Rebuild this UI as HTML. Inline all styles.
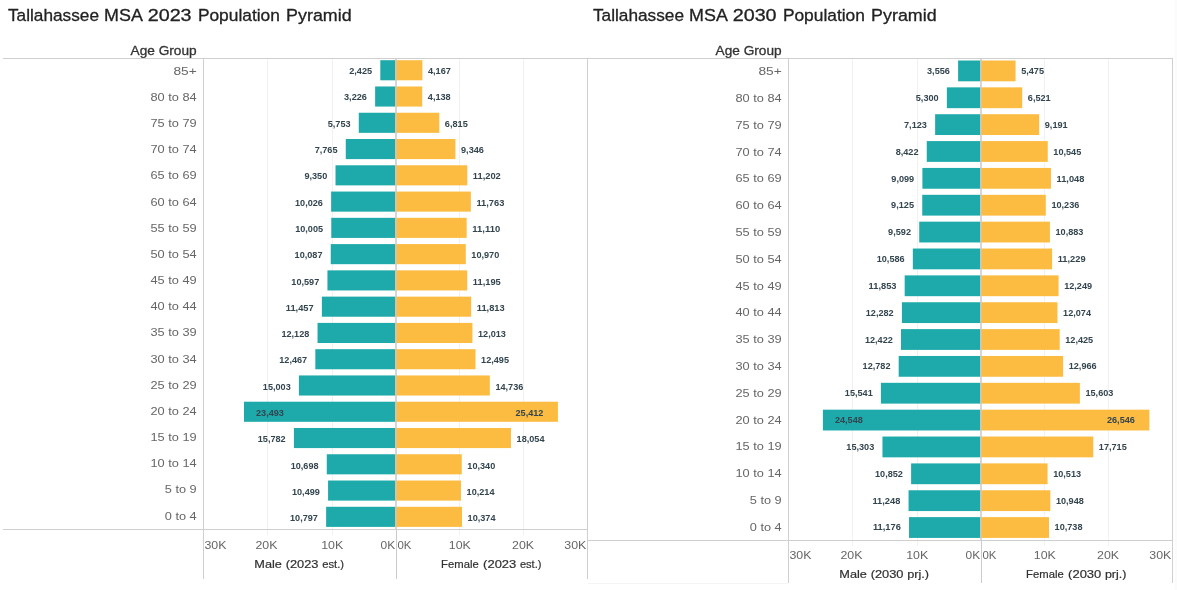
<!DOCTYPE html>
<html lang="en">
<head>
<meta charset="utf-8">
<title>Tallahassee MSA Population Pyramids</title>
<style>
html,body{margin:0;padding:0;background:#fff;}
body{width:1177px;height:590px;overflow:hidden;font-family:"Liberation Sans",sans-serif;}
svg{display:block;font-family:"Liberation Sans",sans-serif;}
.c{shape-rendering:crispEdges;}
.ttl{font-size:17.2px;fill:#222;stroke:#222;stroke-width:0.3px;}
.hdr{font-size:13px;fill:#333;stroke:#333;stroke-width:0.3px;}
.row{font-size:11.3px;fill:#666;}
.dl{font-size:8.6px;font-weight:bold;fill:#33454f;}
.tk{font-size:11px;fill:#666;}
.at{font-size:10.4px;fill:#303030;stroke:#303030;stroke-width:0.18px;}
</style>
</head>
<body>
<svg width="1177" height="590" viewBox="0 0 1177 590">
<rect x="0" y="0" width="1177" height="590" fill="#ffffff"/>
<text class="ttl" y="20.9"><tspan x="8.0" textLength="91.0" lengthAdjust="spacingAndGlyphs">Tallahassee</tspan> <tspan x="104.1" textLength="37.8" lengthAdjust="spacingAndGlyphs">MSA</tspan> <tspan x="147.7" textLength="43.9" lengthAdjust="spacingAndGlyphs">2023</tspan> <tspan x="197.9" textLength="82.0" lengthAdjust="spacingAndGlyphs">Population</tspan> <tspan x="286.1" textLength="65.5" lengthAdjust="spacingAndGlyphs">Pyramid</tspan></text>
<text class="hdr" x="196.6" y="54.8" text-anchor="end" textLength="66" lengthAdjust="spacingAndGlyphs">Age Group</text>
<rect class="c" x="267.0" y="59" width="1" height="476" fill="#f1f1f1"/>
<rect class="c" x="332.0" y="59" width="1" height="476" fill="#f1f1f1"/>
<rect class="c" x="459.0" y="59" width="1" height="476" fill="#f1f1f1"/>
<rect class="c" x="523.0" y="59" width="1" height="476" fill="#f1f1f1"/>
<rect x="380.31" y="60.20" width="14.69" height="20.1" fill="#1eaaaa"/>
<rect x="395.00" y="60.20" width="27.39" height="20.1" fill="#fcbc42"/>
<rect x="375.13" y="86.47" width="19.87" height="20.1" fill="#1eaaaa"/>
<rect x="395.00" y="86.47" width="27.20" height="20.1" fill="#fcbc42"/>
<rect x="358.78" y="112.74" width="36.22" height="20.1" fill="#1eaaaa"/>
<rect x="395.00" y="112.74" width="44.28" height="20.1" fill="#fcbc42"/>
<rect x="345.76" y="139.01" width="49.24" height="20.1" fill="#1eaaaa"/>
<rect x="395.00" y="139.01" width="60.43" height="20.1" fill="#fcbc42"/>
<rect x="335.51" y="165.28" width="59.49" height="20.1" fill="#1eaaaa"/>
<rect x="395.00" y="165.28" width="72.27" height="20.1" fill="#fcbc42"/>
<rect x="331.13" y="191.55" width="63.87" height="20.1" fill="#1eaaaa"/>
<rect x="395.00" y="191.55" width="75.85" height="20.1" fill="#fcbc42"/>
<rect x="331.27" y="217.82" width="63.73" height="20.1" fill="#1eaaaa"/>
<rect x="395.00" y="217.82" width="71.68" height="20.1" fill="#fcbc42"/>
<rect x="330.74" y="244.09" width="64.26" height="20.1" fill="#1eaaaa"/>
<rect x="395.00" y="244.09" width="70.79" height="20.1" fill="#fcbc42"/>
<rect x="327.44" y="270.36" width="67.56" height="20.1" fill="#1eaaaa"/>
<rect x="395.00" y="270.36" width="72.22" height="20.1" fill="#fcbc42"/>
<rect x="321.87" y="296.63" width="73.13" height="20.1" fill="#1eaaaa"/>
<rect x="395.00" y="296.63" width="76.17" height="20.1" fill="#fcbc42"/>
<rect x="317.53" y="322.90" width="77.47" height="20.1" fill="#1eaaaa"/>
<rect x="395.00" y="322.90" width="77.44" height="20.1" fill="#fcbc42"/>
<rect x="315.34" y="349.17" width="79.66" height="20.1" fill="#1eaaaa"/>
<rect x="395.00" y="349.17" width="80.52" height="20.1" fill="#fcbc42"/>
<rect x="298.93" y="375.44" width="96.07" height="20.1" fill="#1eaaaa"/>
<rect x="395.00" y="375.44" width="94.82" height="20.1" fill="#fcbc42"/>
<rect x="244.00" y="401.71" width="151.00" height="20.1" fill="#1eaaaa"/>
<rect x="395.00" y="401.71" width="162.93" height="20.1" fill="#fcbc42"/>
<rect x="293.89" y="427.98" width="101.11" height="20.1" fill="#1eaaaa"/>
<rect x="395.00" y="427.98" width="115.98" height="20.1" fill="#fcbc42"/>
<rect x="326.78" y="454.25" width="68.22" height="20.1" fill="#1eaaaa"/>
<rect x="395.00" y="454.25" width="66.77" height="20.1" fill="#fcbc42"/>
<rect x="328.07" y="480.52" width="66.93" height="20.1" fill="#1eaaaa"/>
<rect x="395.00" y="480.52" width="65.97" height="20.1" fill="#fcbc42"/>
<rect x="326.14" y="506.79" width="68.86" height="20.1" fill="#1eaaaa"/>
<rect x="395.00" y="506.79" width="66.99" height="20.1" fill="#fcbc42"/>
<rect class="c" x="3" y="58" width="584.5" height="1" fill="#cfcfcf"/>
<rect class="c" x="3" y="529" width="584.5" height="1" fill="#cfcfcf"/>
<rect class="c" x="203" y="58" width="1" height="521" fill="#cfcfcf"/>
<rect class="c" x="587" y="58" width="1" height="521" fill="#cfcfcf"/>
<rect class="c" x="395" y="59" width="2" height="470" fill="#c6c6c6" fill-opacity="0.72"/>
<rect class="c" x="396" y="529" width="1" height="50" fill="#cbcbcb"/>
<text class="row" x="196.7" y="74.65" text-anchor="end" textLength="23.3" lengthAdjust="spacingAndGlyphs">85+</text>
<text class="dl" x="372.11" y="73.95" text-anchor="end" textLength="22.9" lengthAdjust="spacingAndGlyphs">2,425</text>
<text class="dl" x="427.99" y="73.95" textLength="22.9" lengthAdjust="spacingAndGlyphs">4,167</text>
<text class="row" x="196.7" y="100.82" text-anchor="end" textLength="46.2" lengthAdjust="spacingAndGlyphs">80 to 84</text>
<text class="dl" x="366.93" y="100.27" text-anchor="end" textLength="22.9" lengthAdjust="spacingAndGlyphs">3,226</text>
<text class="dl" x="427.80" y="100.27" textLength="22.9" lengthAdjust="spacingAndGlyphs">4,138</text>
<text class="row" x="196.7" y="126.99" text-anchor="end" textLength="46.2" lengthAdjust="spacingAndGlyphs">75 to 79</text>
<text class="dl" x="350.58" y="126.59" text-anchor="end" textLength="22.9" lengthAdjust="spacingAndGlyphs">5,753</text>
<text class="dl" x="444.88" y="126.59" textLength="22.9" lengthAdjust="spacingAndGlyphs">6,815</text>
<text class="row" x="196.7" y="153.16" text-anchor="end" textLength="46.2" lengthAdjust="spacingAndGlyphs">70 to 74</text>
<text class="dl" x="337.56" y="152.91" text-anchor="end" textLength="22.9" lengthAdjust="spacingAndGlyphs">7,765</text>
<text class="dl" x="461.03" y="152.91" textLength="22.9" lengthAdjust="spacingAndGlyphs">9,346</text>
<text class="row" x="196.7" y="179.33" text-anchor="end" textLength="46.2" lengthAdjust="spacingAndGlyphs">65 to 69</text>
<text class="dl" x="327.31" y="179.23" text-anchor="end" textLength="22.9" lengthAdjust="spacingAndGlyphs">9,350</text>
<text class="dl" x="472.87" y="179.23" textLength="27.9" lengthAdjust="spacingAndGlyphs">11,202</text>
<text class="row" x="196.7" y="205.50" text-anchor="end" textLength="46.2" lengthAdjust="spacingAndGlyphs">60 to 64</text>
<text class="dl" x="322.93" y="205.55" text-anchor="end" textLength="27.9" lengthAdjust="spacingAndGlyphs">10,026</text>
<text class="dl" x="476.45" y="205.55" textLength="27.9" lengthAdjust="spacingAndGlyphs">11,763</text>
<text class="row" x="196.7" y="231.67" text-anchor="end" textLength="46.2" lengthAdjust="spacingAndGlyphs">55 to 59</text>
<text class="dl" x="323.07" y="231.87" text-anchor="end" textLength="27.9" lengthAdjust="spacingAndGlyphs">10,005</text>
<text class="dl" x="472.28" y="231.87" textLength="27.9" lengthAdjust="spacingAndGlyphs">11,110</text>
<text class="row" x="196.7" y="257.84" text-anchor="end" textLength="46.2" lengthAdjust="spacingAndGlyphs">50 to 54</text>
<text class="dl" x="322.54" y="258.19" text-anchor="end" textLength="27.9" lengthAdjust="spacingAndGlyphs">10,087</text>
<text class="dl" x="471.39" y="258.19" textLength="27.9" lengthAdjust="spacingAndGlyphs">10,970</text>
<text class="row" x="196.7" y="284.01" text-anchor="end" textLength="46.2" lengthAdjust="spacingAndGlyphs">45 to 49</text>
<text class="dl" x="319.24" y="284.51" text-anchor="end" textLength="27.9" lengthAdjust="spacingAndGlyphs">10,597</text>
<text class="dl" x="472.82" y="284.51" textLength="27.9" lengthAdjust="spacingAndGlyphs">11,195</text>
<text class="row" x="196.7" y="310.18" text-anchor="end" textLength="46.2" lengthAdjust="spacingAndGlyphs">40 to 44</text>
<text class="dl" x="313.67" y="310.83" text-anchor="end" textLength="27.9" lengthAdjust="spacingAndGlyphs">11,457</text>
<text class="dl" x="476.77" y="310.83" textLength="27.9" lengthAdjust="spacingAndGlyphs">11,813</text>
<text class="row" x="196.7" y="336.35" text-anchor="end" textLength="46.2" lengthAdjust="spacingAndGlyphs">35 to 39</text>
<text class="dl" x="309.33" y="337.15" text-anchor="end" textLength="27.9" lengthAdjust="spacingAndGlyphs">12,128</text>
<text class="dl" x="478.04" y="337.15" textLength="27.9" lengthAdjust="spacingAndGlyphs">12,013</text>
<text class="row" x="196.7" y="362.52" text-anchor="end" textLength="46.2" lengthAdjust="spacingAndGlyphs">30 to 34</text>
<text class="dl" x="307.14" y="363.47" text-anchor="end" textLength="27.9" lengthAdjust="spacingAndGlyphs">12,467</text>
<text class="dl" x="481.12" y="363.47" textLength="27.9" lengthAdjust="spacingAndGlyphs">12,495</text>
<text class="row" x="196.7" y="388.69" text-anchor="end" textLength="46.2" lengthAdjust="spacingAndGlyphs">25 to 29</text>
<text class="dl" x="290.73" y="389.79" text-anchor="end" textLength="27.9" lengthAdjust="spacingAndGlyphs">15,003</text>
<text class="dl" x="495.42" y="389.79" textLength="27.9" lengthAdjust="spacingAndGlyphs">14,736</text>
<text class="row" x="196.7" y="414.86" text-anchor="end" textLength="46.2" lengthAdjust="spacingAndGlyphs">20 to 24</text>
<text class="dl" x="256.00" y="416.11" textLength="27.9" lengthAdjust="spacingAndGlyphs">23,493</text>
<text class="dl" x="543.43" y="416.11" text-anchor="end" textLength="27.9" lengthAdjust="spacingAndGlyphs">25,412</text>
<text class="row" x="196.7" y="441.03" text-anchor="end" textLength="46.2" lengthAdjust="spacingAndGlyphs">15 to 19</text>
<text class="dl" x="285.69" y="442.43" text-anchor="end" textLength="27.9" lengthAdjust="spacingAndGlyphs">15,782</text>
<text class="dl" x="516.58" y="442.43" textLength="27.9" lengthAdjust="spacingAndGlyphs">18,054</text>
<text class="row" x="196.7" y="467.20" text-anchor="end" textLength="46.2" lengthAdjust="spacingAndGlyphs">10 to 14</text>
<text class="dl" x="318.58" y="468.75" text-anchor="end" textLength="27.9" lengthAdjust="spacingAndGlyphs">10,698</text>
<text class="dl" x="467.37" y="468.75" textLength="27.9" lengthAdjust="spacingAndGlyphs">10,340</text>
<text class="row" x="196.7" y="493.37" text-anchor="end" textLength="31.9" lengthAdjust="spacingAndGlyphs">5 to 9</text>
<text class="dl" x="319.87" y="495.07" text-anchor="end" textLength="27.9" lengthAdjust="spacingAndGlyphs">10,499</text>
<text class="dl" x="466.57" y="495.07" textLength="27.9" lengthAdjust="spacingAndGlyphs">10,214</text>
<text class="row" x="196.7" y="519.54" text-anchor="end" textLength="31.9" lengthAdjust="spacingAndGlyphs">0 to 4</text>
<text class="dl" x="317.94" y="521.39" text-anchor="end" textLength="27.9" lengthAdjust="spacingAndGlyphs">10,797</text>
<text class="dl" x="467.59" y="521.39" textLength="27.9" lengthAdjust="spacingAndGlyphs">10,374</text>
<text class="tk" x="204.5" y="548.6" textLength="22.0" lengthAdjust="spacingAndGlyphs">30K</text>
<text class="tk" x="266.5" y="548.6" text-anchor="middle" textLength="22.0" lengthAdjust="spacingAndGlyphs">20K</text>
<text class="tk" x="332.2" y="548.6" text-anchor="middle" textLength="22.0" lengthAdjust="spacingAndGlyphs">10K</text>
<text class="tk" x="395.2" y="548.6" text-anchor="end" textLength="14.6" lengthAdjust="spacingAndGlyphs">0K</text>
<text class="tk" x="397.4" y="548.6" textLength="14.0" lengthAdjust="spacingAndGlyphs">0K</text>
<text class="tk" x="459.8" y="548.6" text-anchor="middle" textLength="22.0" lengthAdjust="spacingAndGlyphs">10K</text>
<text class="tk" x="523.1" y="548.6" text-anchor="middle" textLength="22.0" lengthAdjust="spacingAndGlyphs">20K</text>
<text class="tk" x="586.3" y="548.6" text-anchor="end" textLength="22.0" lengthAdjust="spacingAndGlyphs">30K</text>
<text class="at" y="567.7"><tspan x="254.3" textLength="27.6" lengthAdjust="spacingAndGlyphs">Male</tspan> <tspan x="285.7" textLength="32.8" lengthAdjust="spacingAndGlyphs">(2023</tspan> <tspan x="322.2" textLength="21.9" lengthAdjust="spacingAndGlyphs">est.)</tspan></text>
<text class="at" y="567.7"><tspan x="441.1" textLength="37.6" lengthAdjust="spacingAndGlyphs">Female</tspan> <tspan x="483.1" textLength="33.2" lengthAdjust="spacingAndGlyphs">(2023</tspan> <tspan x="519.9" textLength="21.5" lengthAdjust="spacingAndGlyphs">est.)</tspan></text>
<text class="ttl" y="20.9"><tspan x="593.0" textLength="91.0" lengthAdjust="spacingAndGlyphs">Tallahassee</tspan> <tspan x="689.1" textLength="37.8" lengthAdjust="spacingAndGlyphs">MSA</tspan> <tspan x="732.7" textLength="43.9" lengthAdjust="spacingAndGlyphs">2030</tspan> <tspan x="782.9" textLength="82.0" lengthAdjust="spacingAndGlyphs">Population</tspan> <tspan x="871.1" textLength="65.5" lengthAdjust="spacingAndGlyphs">Pyramid</tspan></text>
<text class="hdr" x="781.6" y="54.8" text-anchor="end" textLength="66" lengthAdjust="spacingAndGlyphs">Age Group</text>
<rect class="c" x="852.0" y="59" width="1" height="487" fill="#f1f1f1"/>
<rect class="c" x="917.0" y="59" width="1" height="487" fill="#f1f1f1"/>
<rect class="c" x="1044.0" y="59" width="1" height="487" fill="#f1f1f1"/>
<rect class="c" x="1108.0" y="59" width="1" height="487" fill="#f1f1f1"/>
<rect x="958.10" y="60.50" width="21.90" height="20.8" fill="#1eaaaa"/>
<rect x="980.00" y="60.50" width="35.57" height="20.8" fill="#fcbc42"/>
<rect x="946.87" y="87.36" width="33.13" height="20.8" fill="#1eaaaa"/>
<rect x="980.00" y="87.36" width="42.21" height="20.8" fill="#fcbc42"/>
<rect x="935.13" y="114.22" width="44.87" height="20.8" fill="#1eaaaa"/>
<rect x="980.00" y="114.22" width="59.16" height="20.8" fill="#fcbc42"/>
<rect x="926.76" y="141.08" width="53.24" height="20.8" fill="#1eaaaa"/>
<rect x="980.00" y="141.08" width="67.76" height="20.8" fill="#fcbc42"/>
<rect x="922.40" y="167.94" width="57.60" height="20.8" fill="#1eaaaa"/>
<rect x="980.00" y="167.94" width="70.95" height="20.8" fill="#fcbc42"/>
<rect x="922.24" y="194.80" width="57.76" height="20.8" fill="#1eaaaa"/>
<rect x="980.00" y="194.80" width="65.80" height="20.8" fill="#fcbc42"/>
<rect x="919.23" y="221.66" width="60.77" height="20.8" fill="#1eaaaa"/>
<rect x="980.00" y="221.66" width="69.91" height="20.8" fill="#fcbc42"/>
<rect x="912.83" y="248.52" width="67.17" height="20.8" fill="#1eaaaa"/>
<rect x="980.00" y="248.52" width="72.10" height="20.8" fill="#fcbc42"/>
<rect x="904.67" y="275.38" width="75.33" height="20.8" fill="#1eaaaa"/>
<rect x="980.00" y="275.38" width="78.58" height="20.8" fill="#fcbc42"/>
<rect x="901.90" y="302.24" width="78.10" height="20.8" fill="#1eaaaa"/>
<rect x="980.00" y="302.24" width="77.47" height="20.8" fill="#fcbc42"/>
<rect x="901.00" y="329.10" width="79.00" height="20.8" fill="#1eaaaa"/>
<rect x="980.00" y="329.10" width="79.70" height="20.8" fill="#fcbc42"/>
<rect x="898.68" y="355.96" width="81.32" height="20.8" fill="#1eaaaa"/>
<rect x="980.00" y="355.96" width="83.13" height="20.8" fill="#fcbc42"/>
<rect x="880.92" y="382.82" width="99.08" height="20.8" fill="#1eaaaa"/>
<rect x="980.00" y="382.82" width="99.88" height="20.8" fill="#fcbc42"/>
<rect x="822.91" y="409.68" width="157.09" height="20.8" fill="#1eaaaa"/>
<rect x="980.00" y="409.68" width="169.37" height="20.8" fill="#fcbc42"/>
<rect x="882.45" y="436.54" width="97.55" height="20.8" fill="#1eaaaa"/>
<rect x="980.00" y="436.54" width="113.29" height="20.8" fill="#fcbc42"/>
<rect x="911.11" y="463.40" width="68.89" height="20.8" fill="#1eaaaa"/>
<rect x="980.00" y="463.40" width="67.56" height="20.8" fill="#fcbc42"/>
<rect x="908.56" y="490.26" width="71.44" height="20.8" fill="#1eaaaa"/>
<rect x="980.00" y="490.26" width="70.32" height="20.8" fill="#fcbc42"/>
<rect x="909.03" y="517.12" width="70.97" height="20.8" fill="#1eaaaa"/>
<rect x="980.00" y="517.12" width="68.99" height="20.8" fill="#fcbc42"/>
<rect class="c" x="588" y="58" width="584.5" height="1" fill="#cfcfcf"/>
<rect class="c" x="588" y="540" width="584.5" height="1" fill="#cfcfcf"/>
<rect class="c" x="788" y="58" width="1" height="525" fill="#cfcfcf"/>
<rect class="c" x="1172" y="58" width="1" height="525" fill="#cfcfcf"/>
<rect class="c" x="980" y="59" width="2" height="481" fill="#c6c6c6" fill-opacity="0.72"/>
<rect class="c" x="981" y="540" width="1" height="43" fill="#cbcbcb"/>
<text class="row" x="781.7" y="75.20" text-anchor="end" textLength="23.3" lengthAdjust="spacingAndGlyphs">85+</text>
<text class="dl" x="949.90" y="74.30" text-anchor="end" textLength="22.9" lengthAdjust="spacingAndGlyphs">3,556</text>
<text class="dl" x="1021.17" y="74.30" textLength="22.9" lengthAdjust="spacingAndGlyphs">5,475</text>
<text class="row" x="781.7" y="102.00" text-anchor="end" textLength="46.2" lengthAdjust="spacingAndGlyphs">80 to 84</text>
<text class="dl" x="938.67" y="101.13" text-anchor="end" textLength="22.9" lengthAdjust="spacingAndGlyphs">5,300</text>
<text class="dl" x="1027.81" y="101.13" textLength="22.9" lengthAdjust="spacingAndGlyphs">6,521</text>
<text class="row" x="781.7" y="128.80" text-anchor="end" textLength="46.2" lengthAdjust="spacingAndGlyphs">75 to 79</text>
<text class="dl" x="926.93" y="127.96" text-anchor="end" textLength="22.9" lengthAdjust="spacingAndGlyphs">7,123</text>
<text class="dl" x="1044.76" y="127.96" textLength="22.9" lengthAdjust="spacingAndGlyphs">9,191</text>
<text class="row" x="781.7" y="155.60" text-anchor="end" textLength="46.2" lengthAdjust="spacingAndGlyphs">70 to 74</text>
<text class="dl" x="918.56" y="154.79" text-anchor="end" textLength="22.9" lengthAdjust="spacingAndGlyphs">8,422</text>
<text class="dl" x="1053.36" y="154.79" textLength="27.9" lengthAdjust="spacingAndGlyphs">10,545</text>
<text class="row" x="781.7" y="182.40" text-anchor="end" textLength="46.2" lengthAdjust="spacingAndGlyphs">65 to 69</text>
<text class="dl" x="914.20" y="181.62" text-anchor="end" textLength="22.9" lengthAdjust="spacingAndGlyphs">9,099</text>
<text class="dl" x="1056.55" y="181.62" textLength="27.9" lengthAdjust="spacingAndGlyphs">11,048</text>
<text class="row" x="781.7" y="209.20" text-anchor="end" textLength="46.2" lengthAdjust="spacingAndGlyphs">60 to 64</text>
<text class="dl" x="914.03" y="208.45" text-anchor="end" textLength="22.9" lengthAdjust="spacingAndGlyphs">9,125</text>
<text class="dl" x="1051.40" y="208.45" textLength="27.9" lengthAdjust="spacingAndGlyphs">10,236</text>
<text class="row" x="781.7" y="236.00" text-anchor="end" textLength="46.2" lengthAdjust="spacingAndGlyphs">55 to 59</text>
<text class="dl" x="911.03" y="235.28" text-anchor="end" textLength="22.9" lengthAdjust="spacingAndGlyphs">9,592</text>
<text class="dl" x="1055.51" y="235.28" textLength="27.9" lengthAdjust="spacingAndGlyphs">10,883</text>
<text class="row" x="781.7" y="262.80" text-anchor="end" textLength="46.2" lengthAdjust="spacingAndGlyphs">50 to 54</text>
<text class="dl" x="904.63" y="262.11" text-anchor="end" textLength="27.9" lengthAdjust="spacingAndGlyphs">10,586</text>
<text class="dl" x="1057.70" y="262.11" textLength="27.9" lengthAdjust="spacingAndGlyphs">11,229</text>
<text class="row" x="781.7" y="289.60" text-anchor="end" textLength="46.2" lengthAdjust="spacingAndGlyphs">45 to 49</text>
<text class="dl" x="896.47" y="288.94" text-anchor="end" textLength="27.9" lengthAdjust="spacingAndGlyphs">11,853</text>
<text class="dl" x="1064.18" y="288.94" textLength="27.9" lengthAdjust="spacingAndGlyphs">12,249</text>
<text class="row" x="781.7" y="316.40" text-anchor="end" textLength="46.2" lengthAdjust="spacingAndGlyphs">40 to 44</text>
<text class="dl" x="893.70" y="315.77" text-anchor="end" textLength="27.9" lengthAdjust="spacingAndGlyphs">12,282</text>
<text class="dl" x="1063.07" y="315.77" textLength="27.9" lengthAdjust="spacingAndGlyphs">12,074</text>
<text class="row" x="781.7" y="343.20" text-anchor="end" textLength="46.2" lengthAdjust="spacingAndGlyphs">35 to 39</text>
<text class="dl" x="892.80" y="342.60" text-anchor="end" textLength="27.9" lengthAdjust="spacingAndGlyphs">12,422</text>
<text class="dl" x="1065.30" y="342.60" textLength="27.9" lengthAdjust="spacingAndGlyphs">12,425</text>
<text class="row" x="781.7" y="370.00" text-anchor="end" textLength="46.2" lengthAdjust="spacingAndGlyphs">30 to 34</text>
<text class="dl" x="890.48" y="369.43" text-anchor="end" textLength="27.9" lengthAdjust="spacingAndGlyphs">12,782</text>
<text class="dl" x="1068.73" y="369.43" textLength="27.9" lengthAdjust="spacingAndGlyphs">12,966</text>
<text class="row" x="781.7" y="396.80" text-anchor="end" textLength="46.2" lengthAdjust="spacingAndGlyphs">25 to 29</text>
<text class="dl" x="872.72" y="396.26" text-anchor="end" textLength="27.9" lengthAdjust="spacingAndGlyphs">15,541</text>
<text class="dl" x="1085.48" y="396.26" textLength="27.9" lengthAdjust="spacingAndGlyphs">15,603</text>
<text class="row" x="781.7" y="423.60" text-anchor="end" textLength="46.2" lengthAdjust="spacingAndGlyphs">20 to 24</text>
<text class="dl" x="834.91" y="423.09" textLength="27.9" lengthAdjust="spacingAndGlyphs">24,548</text>
<text class="dl" x="1134.87" y="423.09" text-anchor="end" textLength="27.9" lengthAdjust="spacingAndGlyphs">26,546</text>
<text class="row" x="781.7" y="450.40" text-anchor="end" textLength="46.2" lengthAdjust="spacingAndGlyphs">15 to 19</text>
<text class="dl" x="874.25" y="449.92" text-anchor="end" textLength="27.9" lengthAdjust="spacingAndGlyphs">15,303</text>
<text class="dl" x="1098.89" y="449.92" textLength="27.9" lengthAdjust="spacingAndGlyphs">17,715</text>
<text class="row" x="781.7" y="477.20" text-anchor="end" textLength="46.2" lengthAdjust="spacingAndGlyphs">10 to 14</text>
<text class="dl" x="902.91" y="476.75" text-anchor="end" textLength="27.9" lengthAdjust="spacingAndGlyphs">10,852</text>
<text class="dl" x="1053.16" y="476.75" textLength="27.9" lengthAdjust="spacingAndGlyphs">10,513</text>
<text class="row" x="781.7" y="504.00" text-anchor="end" textLength="31.9" lengthAdjust="spacingAndGlyphs">5 to 9</text>
<text class="dl" x="900.36" y="503.58" text-anchor="end" textLength="27.9" lengthAdjust="spacingAndGlyphs">11,248</text>
<text class="dl" x="1055.92" y="503.58" textLength="27.9" lengthAdjust="spacingAndGlyphs">10,948</text>
<text class="row" x="781.7" y="530.80" text-anchor="end" textLength="31.9" lengthAdjust="spacingAndGlyphs">0 to 4</text>
<text class="dl" x="900.83" y="530.41" text-anchor="end" textLength="27.9" lengthAdjust="spacingAndGlyphs">11,176</text>
<text class="dl" x="1054.59" y="530.41" textLength="27.9" lengthAdjust="spacingAndGlyphs">10,738</text>
<text class="tk" x="789.5" y="559.4" textLength="22.0" lengthAdjust="spacingAndGlyphs">30K</text>
<text class="tk" x="851.5" y="559.4" text-anchor="middle" textLength="22.0" lengthAdjust="spacingAndGlyphs">20K</text>
<text class="tk" x="917.2" y="559.4" text-anchor="middle" textLength="22.0" lengthAdjust="spacingAndGlyphs">10K</text>
<text class="tk" x="980.2" y="559.4" text-anchor="end" textLength="14.6" lengthAdjust="spacingAndGlyphs">0K</text>
<text class="tk" x="982.4" y="559.4" textLength="14.0" lengthAdjust="spacingAndGlyphs">0K</text>
<text class="tk" x="1044.8" y="559.4" text-anchor="middle" textLength="22.0" lengthAdjust="spacingAndGlyphs">10K</text>
<text class="tk" x="1108.1" y="559.4" text-anchor="middle" textLength="22.0" lengthAdjust="spacingAndGlyphs">20K</text>
<text class="tk" x="1171.3" y="559.4" text-anchor="end" textLength="22.0" lengthAdjust="spacingAndGlyphs">30K</text>
<text class="at" y="577.6"><tspan x="839.3" textLength="27.6" lengthAdjust="spacingAndGlyphs">Male</tspan> <tspan x="870.7" textLength="32.8" lengthAdjust="spacingAndGlyphs">(2030</tspan> <tspan x="907.2" textLength="21.9" lengthAdjust="spacingAndGlyphs">prj.)</tspan></text>
<text class="at" y="577.6"><tspan x="1026.1" textLength="37.6" lengthAdjust="spacingAndGlyphs">Female</tspan> <tspan x="1068.1" textLength="33.2" lengthAdjust="spacingAndGlyphs">(2030</tspan> <tspan x="1104.9" textLength="21.5" lengthAdjust="spacingAndGlyphs">prj.)</tspan></text>
<rect class="c" x="588" y="583" width="200" height="1" fill="#f5f5f5"/>
<rect class="c" x="1175" y="0" width="2" height="590" fill="#fbfbfb"/>
</svg>
</body>
</html>
